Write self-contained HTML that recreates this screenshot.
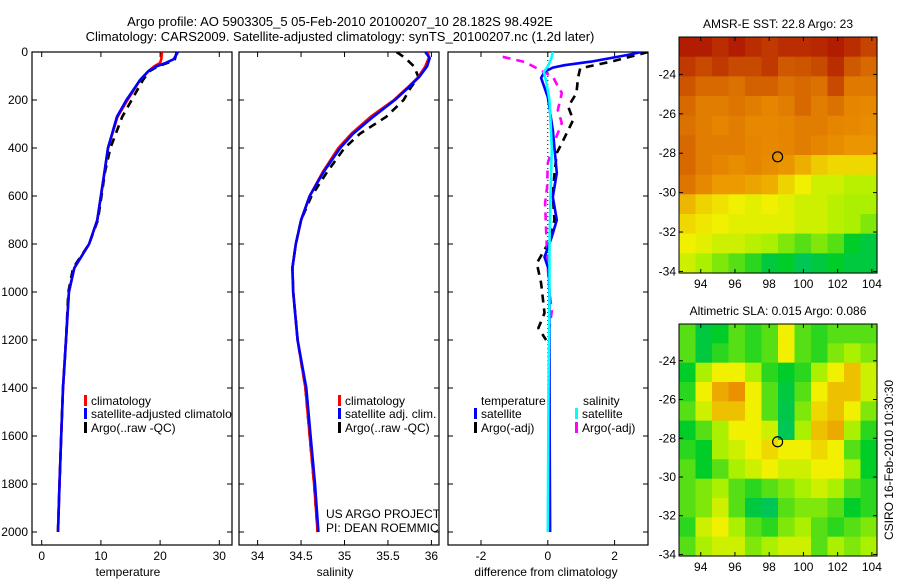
<!DOCTYPE html>
<html><head><meta charset="utf-8"><style>
html,body{margin:0;padding:0;background:#fff;}
svg{display:block;font-family:"Liberation Sans",sans-serif;}
text{fill:#000;}
</style></head><body>
<svg id="fig" width="900" height="580" viewBox="0 0 900 580" xmlns="http://www.w3.org/2000/svg">
<defs>
<clipPath id="c1"><rect x="32" y="52" width="200" height="493"/></clipPath>
<clipPath id="c2"><rect x="239" y="52" width="200" height="493"/></clipPath>
<clipPath id="c3"><rect x="448" y="52" width="200" height="493"/></clipPath>
<clipPath id="c2t"><rect x="0" y="0" width="439" height="580"/></clipPath>
<clipPath id="c1t"><rect x="0" y="0" width="232" height="580"/></clipPath>
</defs>
<text x="340" y="26" font-size="13" text-anchor="middle">Argo profile: AO 5903305_5 05-Feb-2010 20100207_10 28.182S 98.492E</text>
<text x="340" y="41" font-size="13" text-anchor="middle">Climatology: CARS2009. Satellite-adjusted climatology: synTS_20100207.nc (1.2d later)</text>
<g id="p1"></g>
<g id="p2"></g>
<g id="p3"></g>
<g id="m1"></g>
<g id="m2"></g>
<text font-size="12" transform="translate(893,460) rotate(-90)" text-anchor="middle">CSIRO 16-Feb-2010 10:30:30</text>
</svg>
<script>
// ---- temperature panel data ----
const tDepth=[0,30,45,60,80,117,200,270,400,500,600,700,800,900,1000,1200,1400,1600,1800,2000];
const tClim=[20.3,20.2,20.0,19.0,18.0,16.6,14.5,12.8,11.2,10.6,10,9.4,8,5.5,4.6,4.1,3.6,3.3,3.0,2.75];
const tSat=[23.0,22.3,21.0,19.4,18.0,16.6,14.3,12.7,11.2,10.6,10,9.4,8,5.5,4.6,4.1,3.6,3.3,3.0,2.75];
const tArgo=[22.8,22.5,21.3,19.6,18.2,17.1,15.2,13.6,11.6,10.7,10.1,9.5,8,5.3,4.5,4.1,3.6,3.3,3.0,2.75];
const tTicks=[0,10,20,30];
// ---- salinity panel data ----
const sDepth=[0,25,60,104,150,200,270,340,400,500,600,700,800,900,1000,1200,1400,1600,1800,2000];
const sClim=[35.96,35.97,35.93,35.85,35.72,35.57,35.3,35.08,34.93,34.75,34.6,34.5,34.44,34.4,34.41,34.46,34.55,34.6,34.65,34.69];
const sSat=[35.93,35.98,35.95,35.86,35.73,35.58,35.33,35.1,34.95,34.76,34.6,34.5,34.44,34.4,34.41,34.46,34.56,34.61,34.66,34.7];
const sArgo=[35.6,35.7,35.8,35.85,35.76,35.68,35.48,35.18,35.0,34.8,34.62,34.5,34.44,34.4,34.41,34.46,34.55,34.6,34.65,34.69];
const sTicks=[34,34.5,35,35.5,36];
// ---- difference panel data ----
const dtDepth=[0,12,40,55,65,83,108,188,325,504,604,700,770,854,908,1000,1400,2000];
const dtSat=[2.8,2.4,1.3,0.5,0.15,-0.1,-0.2,0,0.15,0.27,0.15,0.27,0.12,-0.1,0.03,0.05,0.05,0.07];
const daDepth=[0,15,40,68,110,171,228,283,380,421,504,600,700,800,880,963,1088,1150,1200];
const dtArgo=[3.0,2.6,1.9,0.97,0.9,0.86,0.61,0.76,0.42,0.27,0.2,0.15,0.2,0,-0.33,-0.2,-0.1,-0.28,-0.05];
const dsDepth=[0,30,60,83,120,200,400,600,800,1000,1400,2000];
const dsSat=[0.15,0.1,0,-0.12,-0.05,0.05,0.12,0.08,0.05,0.05,0.02,0.0];
const dmDepth=[20,42,75,104,129,171,242,296,367,463,563,629,742,900,1000,1080,1150];
const dsArgo=[-1.35,-0.68,-0.23,0.16,0.25,0.42,0.3,0.42,0.22,0,-0.02,-0.08,-0.05,0,0.05,0.12,0.05];
const dTicks=[-2,0,2];
const depthTicks=[0,200,400,600,800,1000,1200,1400,1600,1800,2000];
// ---- map data (values 0..1 on colormap) ----
const mapLonTicks=[94,96,98,100,102,104];
const mapLatTicks=[-24,-26,-28,-30,-32,-34];
const argoLon=98.492, argoLat=-28.182;
const sstGrid=[
[0.95,0.95,0.92,0.95,0.92,0.9,0.92,0.92,0.93,0.95,0.92,0.88],
[0.9,0.87,0.9,0.87,0.87,0.9,0.84,0.85,0.87,0.92,0.84,0.8],
[0.85,0.8,0.8,0.78,0.82,0.82,0.78,0.8,0.78,0.87,0.76,0.76],
[0.8,0.75,0.75,0.77,0.75,0.73,0.75,0.8,0.75,0.78,0.73,0.72],
[0.78,0.75,0.73,0.75,0.72,0.72,0.73,0.75,0.75,0.73,0.72,0.71],
[0.8,0.75,0.75,0.75,0.73,0.72,0.73,0.75,0.73,0.71,0.69,0.69],
[0.8,0.75,0.73,0.71,0.73,0.71,0.69,0.64,0.58,0.55,0.55,0.55],
[0.77,0.72,0.68,0.68,0.66,0.64,0.56,0.5,0.45,0.45,0.42,0.42],
[0.62,0.56,0.53,0.5,0.48,0.5,0.48,0.45,0.45,0.42,0.4,0.4],
[0.55,0.52,0.5,0.48,0.48,0.48,0.48,0.45,0.45,0.42,0.4,0.35],
[0.5,0.48,0.45,0.45,0.42,0.4,0.35,0.3,0.35,0.3,0.2,0.15],
[0.45,0.4,0.35,0.3,0.25,0.15,0.2,0.1,0.15,0.2,0.15,0.15]];
const slaGrid=[
[0.3,0.15,0.2,0.3,0.25,0.3,0.5,0.3,0.25,0.3,0.3,0.3],
[0.3,0.15,0.25,0.3,0.25,0.3,0.5,0.3,0.25,0.35,0.4,0.35],
[0.2,0.4,0.5,0.5,0.4,0.25,0.2,0.25,0.4,0.5,0.6,0.45],
[0.25,0.5,0.65,0.7,0.5,0.3,0.15,0.3,0.5,0.6,0.6,0.45],
[0.3,0.45,0.6,0.6,0.5,0.3,0.12,0.35,0.55,0.6,0.5,0.35],
[0.2,0.3,0.4,0.5,0.5,0.45,0.1,0.4,0.6,0.65,0.4,0.25],
[0.25,0.2,0.4,0.45,0.5,0.55,0.5,0.5,0.55,0.5,0.3,0.2],
[0.3,0.2,0.3,0.4,0.45,0.5,0.45,0.45,0.5,0.5,0.4,0.2],
[0.3,0.35,0.4,0.3,0.25,0.3,0.35,0.4,0.45,0.4,0.3,0.25],
[0.3,0.35,0.45,0.3,0.15,0.1,0.3,0.35,0.35,0.3,0.2,0.25],
[0.25,0.45,0.5,0.4,0.3,0.25,0.35,0.4,0.3,0.25,0.3,0.35],
[0.3,0.4,0.45,0.45,0.35,0.4,0.45,0.45,0.3,0.4,0.35,0.4]];

const NS='http://www.w3.org/2000/svg';
function mk(parent,tag,attrs,txt){const e=document.createElementNS(NS,tag);for(const k in attrs)e.setAttribute(k,attrs[k]);if(txt!==undefined)e.textContent=txt;parent.appendChild(e);return e;}
const Y0=52,Y1=545;
const yD=d=>52+d*0.24;
function frame(g,x0,x1){
  const r=mk(g,'rect',{x:x0,y:Y0,width:x1-x0,height:Y1-Y0,fill:'none',stroke:'#000','stroke-width':1.2});
  
  
  depthTicks.forEach(d=>{mk(g,'line',{x1:x0,x2:x0+5,y1:yD(d),y2:yD(d),stroke:'#000'});mk(g,'line',{x1:x1,x2:x1-5,y1:yD(d),y2:yD(d),stroke:'#000'});});
}
function xticks(g,xs,vals,fmt){
  vals.forEach(v=>{const x=xs(v);mk(g,'line',{x1:x,x2:x,y1:Y1,y2:Y1-5,stroke:'#000'});mk(g,'line',{x1:x,x2:x,y1:Y0,y2:Y0+5,stroke:'#000'});
    const t=mk(g,'text',{x:x,y:560,'font-size':12,'text-anchor':'middle'},fmt(v));
    
    });
}
function line(g,xs,depths,vals,color,dash,clip,name){
  const p=depths.map((d,i)=>(i?'L':'M')+xs(vals[i]).toFixed(1)+','+yD(d).toFixed(1)).join('');
  const a={d:p,fill:'none',stroke:color,'stroke-width':2.6,'clip-path':'url(#'+clip+')','stroke-linejoin':'round'};
  if(dash)a['stroke-dasharray']=dash;
  const e=mk(g,'path',a);
  
  
}
function legend(g,x,y,color,label,name){
  mk(g,'rect',{x:x,y:y-9,width:3,height:11,fill:color});
  const t=mk(g,'text',{x:x+7,y:y+1,'font-size':12},label);
  
  
  return t;
}
// Panel 1
const p1=document.getElementById('p1');
const xT=v=>41.7+v*5.92;
frame(p1,32,232);
depthTicks.forEach(d=>{const t=mk(p1,'text',{x:28,y:yD(d)+4,'font-size':12,'text-anchor':'end'},d);
  
  });
xticks(p1,xT,tTicks,v=>v);
line(p1,xT,tDepth,tArgo,'#000','8 6','c1','temp-argo-line');
line(p1,xT,tDepth,tClim,'#f00',null,'c1','temp-climatology-line');
line(p1,xT,tDepth,tSat,'#00f',null,'c1','temp-satellite-line');
let lg=mk(p1,'g',{'clip-path':'url(#c1t)'});
legend(lg,84,404,'#f00','climatology','legend-climatology');
legend(lg,84,417,'#00f','satellite-adjusted climatology','legend-satellite-adjusted');
legend(lg,84,431,'#000','Argo(..raw -QC)','legend-argo');
mk(p1,'text',{x:128,y:576,'font-size':12,'text-anchor':'middle'},'temperature');
// Panel 2
const p2=document.getElementById('p2');
const xS=v=>257.6+(v-34)*86.9;
frame(p2,239,439);
xticks(p2,xS,sTicks,v=>v);
line(p2,xS,sDepth,sArgo,'#000','8 6','c2','sal-argo-line');
line(p2,xS,sDepth,sClim,'#f00',null,'c2','sal-climatology-line');
line(p2,xS,sDepth,sSat,'#00f',null,'c2','sal-satellite-line');
legend(p2,338,404,'#f00','climatology','legend-climatology');
legend(p2,338,417,'#00f','satellite adj. clim.','legend-satellite-adjusted');
legend(p2,338,431,'#000','Argo(..raw -QC)','legend-argo');
let pg=mk(p2,'g',{'clip-path':'url(#c2t)'});
mk(pg,'text',{x:326,y:518,'font-size':12},'US ARGO PROJECT');
mk(pg,'text',{x:326,y:532,'font-size':12},'PI: DEAN ROEMMICH');
mk(p2,'text',{x:335,y:576,'font-size':12,'text-anchor':'middle'},'salinity');
// Panel 3
const p3=document.getElementById('p3');
const xD=v=>547.8+v*33.4;
frame(p3,448,648);
xticks(p3,xD,dTicks,v=>v);
mk(p3,'line',{x1:xD(0),x2:xD(0),y1:Y0,y2:yD(2000),stroke:'#000','stroke-dasharray':'1 3'});
line(p3,xD,daDepth,dtArgo,'#000','8 6','c3','diff-temp-argo-line');
line(p3,xD,dmDepth,dsArgo,'#f0f','8 6','c3','diff-sal-argo-line');
line(p3,xD,dtDepth,dtSat,'#00f',null,'c3','diff-temp-satellite-line');
line(p3,xD,dsDepth,dsSat,'#0ff',null,'c3','diff-sal-satellite-line');
mk(p3,'text',{x:481,y:405,'font-size':12},'temperature');
mk(p3,'text',{x:583,y:405,'font-size':12},'salinity');
legend(p3,474,417,'#00f','satellite','legend-temp-satellite');
legend(p3,474,431,'#000','Argo(-adj)','legend-temp-argo');
legend(p3,575,417,'#0ff','satellite','legend-sal-satellite');
legend(p3,575,431,'#f0f','Argo(-adj)','legend-sal-argo');
mk(p3,'text',{x:546,y:576,'font-size':12,'text-anchor':'middle'},'difference from climatology');
// Maps
const stops=[[0,[0,190,130]],[0.2,[0,205,40]],[0.4,[170,240,0]],[0.5,[240,240,0]],[0.7,[235,145,0]],[0.85,[205,85,0]],[1,[165,0,0]]];
function cmap(v){for(let i=1;i<stops.length;i++){if(v<=stops[i][0]){const a=stops[i-1],b=stops[i],t=(v-a[0])/(b[0]-a[0]);return 'rgb('+a[1].map((c,k)=>Math.round(c+(b[1][k]-c)*t)).join(',')+')';}}return 'rgb(165,0,0)';}
function drawMap(g,grid,top,bottom,title,tname){
  const L=679,R=877,lon0=92.73,lon1=104.3,lat0=-22.1,lat1=-34.08;
  const xm=lon=>L+(lon-lon0)/(lon1-lon0)*(R-L);
  const ym=lat=>top+(lat-lat0)/(lat1-lat0)*(bottom-top);
  const nr=grid.length,nc=grid[0].length;
  const dLon=(lon1-lon0)/nc,dLat=(lat1-lat0)/nr;
  grid.forEach((row,j)=>row.forEach((v,i)=>{
    const x=xm(lon0+i*dLon),y=ym(lat0+j*dLat);
    const c=mk(g,'rect',{x:x.toFixed(2),y:y.toFixed(2),width:(xm(lon0+(i+1)*dLon)-x+0.6).toFixed(2),height:(ym(lat0+(j+1)*dLat)-y+0.6).toFixed(2),fill:cmap(v)});
    
    
  }));
  mk(g,'rect',{x:L,y:top,width:R-L,height:bottom-top,fill:'none',stroke:'#000','stroke-width':1});
  mapLonTicks.forEach(lon=>{const x=xm(lon);mk(g,'line',{x1:x,x2:x,y1:bottom,y2:bottom-4,stroke:'#000'});mk(g,'line',{x1:x,x2:x,y1:top,y2:top+4,stroke:'#000'});
    mk(g,'text',{x:x,y:bottom+15,'font-size':12,'text-anchor':'middle'},lon);});
  mapLatTicks.forEach(lat=>{const y=ym(lat);mk(g,'line',{x1:L,x2:L+4,y1:y,y2:y,stroke:'#000'});mk(g,'line',{x1:R,x2:R-4,y1:y,y2:y,stroke:'#000'});
    mk(g,'text',{x:L-3,y:y+4,'font-size':12,'text-anchor':'end'},lat);});
  const c=mk(g,'circle',{cx:xm(argoLon),cy:ym(argoLat),r:5,fill:'none',stroke:'#000','stroke-width':1.2});
  
  
  const t=mk(g,'text',{x:(L+R)/2,y:top-9,'font-size':12,'text-anchor':'middle'},title);
  
  
}
drawMap(document.getElementById('m1'),sstGrid,37,273,'AMSR-E SST: 22.8 Argo: 23','sst-map-title');
drawMap(document.getElementById('m2'),slaGrid,324,556,'Altimetric SLA: 0.015 Argo: 0.086','sla-map-title');
</script>
</body></html>
